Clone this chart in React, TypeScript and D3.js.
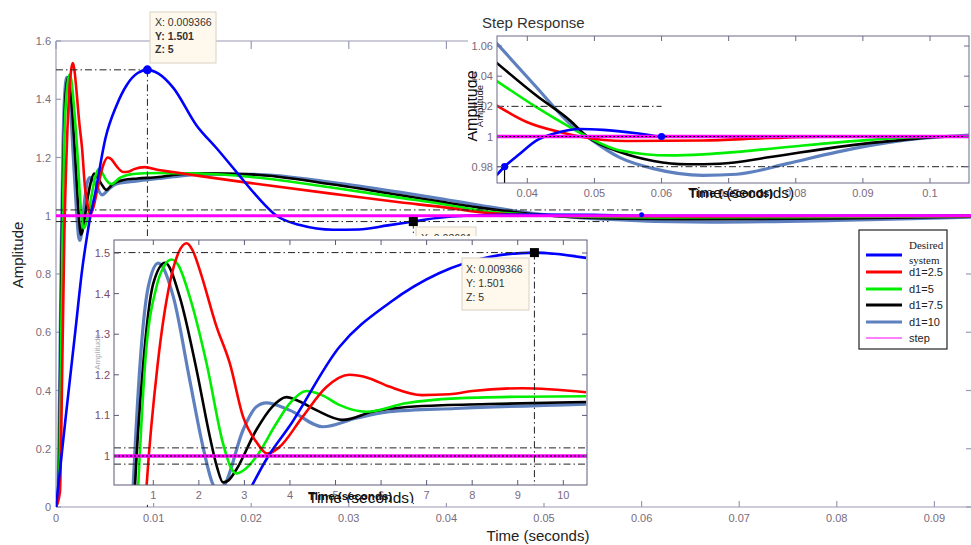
import React from "react";
import * as d3 from "d3";

type P = [number, number];

// ---------------- data ----------------
const seriesNames = ["Desired system", "d1=2.5", "d1=5", "d1=7.5", "d1=10", "step"];
const seriesColors = ["#0000ff", "#ff0000", "#00ee00", "#000000", "#5f80bf", "#ff00ff"];

// early part (time in ms) — shared by the main plot and the lower zoom panel
const desiredEarlyMs: P[] = [[0,0],[1,0.31],[2,0.61],[2.7,0.82],[3.18,0.93],[3.5,0.995],[4,1.075],[5.08,1.268],[6.18,1.377],[7.27,1.45],[8.37,1.49],[9.37,1.501],[10.5,1.488]];
const d25EarlyMs: P[] = [[0,0],[0.4,0.05],[0.65,0.5],[0.855,0.93],[1.1,1.23],[1.37,1.43],[1.55,1.5],[1.73,1.524],[1.87,1.505],[2.02,1.458],[2.39,1.318],[2.68,1.228],[2.97,1.097],[3.26,1.035],[3.5,1.006],[3.75,1.02],[4.28,1.097],[4.8,1.17],[5.3,1.2],[5.7,1.193],[6.18,1.171],[6.9,1.15],[7.5,1.152],[8.0,1.16],[9.1,1.167],[10.5,1.157]];
const d5EarlyMs: P[] = [[0,0],[0.3,0.05],[0.5,0.5],[0.67,0.93],[0.82,1.228],[1.07,1.417],[1.25,1.47],[1.4,1.484],[1.55,1.47],[1.8,1.392],[2.17,1.228],[2.53,1.031],[2.7,0.972],[2.82,0.957],[3.0,0.966],[3.26,0.998],[3.7,1.08],[4.0,1.13],[4.36,1.16],[4.7,1.15],[5.08,1.126],[5.67,1.109],[6.54,1.13],[7.64,1.142],[9.1,1.146],[10.5,1.147]];
const d75EarlyMs: P[] = [[0,0],[0.25,0.05],[0.45,0.5],[0.6,0.93],[0.78,1.228],[1.0,1.425],[1.26,1.476],[1.58,1.392],[1.95,1.212],[2.24,1.048],[2.4,0.972],[2.53,0.935],[2.65,0.94],[2.82,0.966],[3.26,1.064],[3.6,1.12],[3.92,1.145],[4.2,1.135],[4.58,1.113],[5.16,1.089],[5.81,1.109],[6.9,1.123],[8.37,1.128],[10.5,1.133]];
const d10EarlyMs: P[] = [[0,0],[0.2,0.05],[0.4,0.5],[0.56,0.93],[0.71,1.228],[0.89,1.417],[1.11,1.475],[1.44,1.392],[1.8,1.187],[2.09,1.023],[2.31,0.93],[2.45,0.915],[2.57,0.93],[2.97,1.064],[3.26,1.121],[3.48,1.131],[3.99,1.113],[4.72,1.072],[5.45,1.093],[6.18,1.109],[7.64,1.117],[10.5,1.128]];

// later part of the main plot (time in ms)
const desiredLateMs: P[] = [[12,1.44],[14.4,1.31],[16.5,1.23],[18.5,1.15],[20.5,1.07],[22.6,1.0],[25,0.968],[28.4,0.952],[31,0.953],[34,0.967],[36.6,0.98],[39,0.992],[42,1.0],[48,1.004],[55,1.003],[60,1.0],[70,1.0],[100,1.0]];
const d25LateMs: P[] = [[12,1.15],[14.8,1.136],[20,1.112],[28.4,1.075],[35,1.047],[40,1.028],[43.4,1.012],[48,1.003],[55,0.999],[66,0.998],[80,0.999],[100,1.0]];
const d5LateMs: P[] = [[12,1.146],[14.8,1.145],[20,1.133],[28.4,1.096],[35,1.063],[40,1.038],[43.4,1.018],[48,1.005],[55,0.996],[63,0.994],[75,0.995],[90,0.998],[100,1.0]];
const d75LateMs: P[] = [[12,1.14],[14.8,1.146],[20,1.142],[28.4,1.107],[35,1.072],[40,1.045],[43.4,1.028],[50,1.002],[58,0.99],[66,0.988],[80,0.991],[95,0.997],[100,0.999]];
const d10LateMs: P[] = [[12,1.134],[14.8,1.142],[20,1.142],[28.4,1.114],[35,1.082],[40,1.055],[43.4,1.036],[48,1.012],[55,0.99],[67,0.978],[80,0.984],[95,0.996],[100,0.999]];

// "Step Response" panel (time in s)
const desiredTop: P[] = [[0.0354,0.9743],[0.03661,0.98],[0.0389,0.9886],[0.0414,0.9974],[0.0439,1.0018],[0.0479,1.005],[0.0513,1.0044],[0.0563,1.0022],[0.06,1.0],[0.08,1.0],[0.1058,1.0]];
const d25Top: P[] = [[0.0354,1.0207],[0.04,1.0095],[0.0448,1.003],[0.0478,1.0],[0.0548,0.997],[0.0662,0.9974],[0.0762,0.999],[0.0861,1.0],[0.1058,1.0]];
const d5Top: P[] = [[0.0354,1.037],[0.0414,1.0193],[0.0464,1.0061],[0.0489,1.0],[0.0538,0.9908],[0.0613,0.9875],[0.0662,0.9882],[0.0737,0.9908],[0.0811,0.9941],[0.0911,0.9978],[0.101,1.0],[0.1058,1.0]];
const d75Top: P[] = [[0.0354,1.049],[0.0414,1.027],[0.0464,1.0105],[0.0489,1.0],[0.0538,0.9897],[0.0588,0.9838],[0.0638,0.9816],[0.0687,0.982],[0.0762,0.9864],[0.0861,0.993],[0.096,0.9978],[0.1034,1.0],[0.1058,1.0]];
const d10Top: P[] = [[0.0354,1.062],[0.0414,1.0325],[0.0464,1.0083],[0.0489,1.0],[0.0538,0.986],[0.0588,0.9787],[0.0662,0.9743],[0.0712,0.975],[0.0787,0.982],[0.0861,0.9897],[0.096,0.9974],[0.1058,1.001]];

const mainXTicks = [0, 0.01, 0.02, 0.03, 0.04, 0.05, 0.06, 0.07, 0.08, 0.09];
const mainXTickLabels = ["0", "0.01", "0.02", "0.03", "0.04", "0.05", "0.06", "0.07", "0.08", "0.09"];
const mainYTicks = [0, 0.2, 0.4, 0.6, 0.8, 1, 1.2, 1.4, 1.6];
const mainYTickLabels = ["0", "0.2", "0.4", "0.6", "0.8", "1", "1.2", "1.4", "1.6"];
const topXTicks = [0.04, 0.05, 0.06, 0.07, 0.08, 0.09, 0.1];
const topXTickLabels = ["0.04", "0.05", "0.06", "0.07", "0.08", "0.09", "0.1"];
const topYTicks = [0.98, 1, 1.02, 1.04, 1.06];
const topYTickLabels = ["0.98", "1", "1.02", "1.04", "1.06"];
const zoomXTicks = [1, 2, 3, 4, 5, 6, 7, 8, 9, 10];
const zoomXTickLabels = ["1", "2", "3", "4", "5", "6", "7", "8", "9", "10"];
const zoomYTicks = [1, 1.1, 1.2, 1.3, 1.4, 1.5];
const zoomYTickLabels = ["1", "1.1", "1.2", "1.3", "1.4", "1.5"];

const peakPoint: P = [0.009366, 1.501];
const settlePoint: P = [0.03661, 0.98];
const settleEndPoint: P = [0.06, 1.0];
const stepLevel = 1;
const bandHi = 1.02;
const bandLo = 0.98;
const peakTip = ["X: 0.009366", "Y: 1.501", "Z: 5"];
const settleTip = ["X: 0.03661"];

// ---------------- helpers ----------------
const SANS = "'Liberation Sans', Arial, sans-serif";
const SERIF = "'Liberation Serif', 'Times New Roman', serif";
const DASHDOT = "7,3,1.5,3";
const TICKC = "#7a6a7c";

function Curve({ data, x, y, color, w }: { data: P[]; x: any; y: any; color: string; w: number }) {
  const gen = d3.line<P>().x((d) => x(d[0])).y((d) => y(d[1])).curve(d3.curveMonotoneX);
  return <path d={gen(data) || ""} fill="none" stroke={color} strokeWidth={w} strokeLinejoin="round" />;
}

export default function App() {
  const W = 971, H = 545;

  // main plot scales
  const mx = d3.scaleLinear().domain([0, 0.1]).range([56, 1032]);
  const my = d3.scaleLinear().domain([0, 1.6]).range([507, 41]);
  const mL = 56, mT = 41, mB = 507, mR = 971;

  const mainSeries: P[][] = [
    [...desiredEarlyMs, ...desiredLateMs],
    [...d25EarlyMs, ...d25LateMs],
    [...d5EarlyMs, ...d5LateMs],
    [...d75EarlyMs, ...d75LateMs],
    [...d10EarlyMs, ...d10LateMs],
  ].map((s) => s.map((p) => [p[0] / 1000, p[1]] as P));
  const zoomSeries: P[][] = [desiredEarlyMs, d25EarlyMs, d5EarlyMs, d75EarlyMs, d10EarlyMs];
  const topSeries: P[][] = [desiredTop, d25Top, d5Top, d75Top, d10Top];
  const drawOrder = [4, 3, 2, 1, 0];
  const widths = [2.6, 2.6, 2.6, 2.6, 3.2];

  // top inset scales
  const tx = d3.scaleLinear().domain([0.04, 0.1]).range([527.3, 930]);
  const ty = d3.scaleLinear().domain([0.98, 1.06]).range([166.7, 46]);
  const tL = 497, tT = 36, tB = 183, tR = 969;

  // zoom inset scales
  const zx = d3.scaleLinear().domain([1, 10]).range([153.3, 563.3]);
  const zy = d3.scaleLinear().domain([1, 1.5]).range([456, 253]);
  const zL = 114, zT = 240, zB = 485, zR = 587;

  return (
    <svg width={W} height={H} style={{ display: "block", position: "absolute", left: 0, top: 0, background: "#fff" }} fontFamily={SANS}>
      <defs>
        <clipPath id="cMain"><rect x={mL} y={mT} width={mR - mL + 5} height={mB - mT} /></clipPath>
        <clipPath id="cTop"><rect x={tL} y={tT} width={tR - tL} height={tB - tT} /></clipPath>
        <clipPath id="cTopBg"><rect x={468} y={0} width={503} height={201} /></clipPath>
        <clipPath id="cZoom"><rect x={zL} y={zT} width={zR - zL} height={zB - zT} /></clipPath>
        <clipPath id="cZoomBg"><rect x={92} y={236} width={498} height={267} /></clipPath>
      </defs>
      <rect x={0} y={0} width={W} height={H} fill="#fff" />

      {/* ============ MAIN PLOT ============ */}
      <g>
        <g stroke="#9a9ab4" strokeWidth={1.2}>
          <line x1={mL} y1={mT} x2={mL} y2={mB} />
          <line x1={mL} y1={mT} x2={mR} y2={mT} />
          <line x1={mL} y1={mB} x2={mR} y2={mB} />
          {mainXTicks.map((t) => (
            <g key={"mxt" + t}>
              <line x1={mx(t)} y1={mB} x2={mx(t)} y2={mB - 6} />
              <line x1={mx(t)} y1={mT} x2={mx(t)} y2={mT + 8} />
            </g>
          ))}
          {mainYTicks.map((t) => (
            <g key={"myt" + t}>
              <line x1={mL} y1={my(t)} x2={mL + 5} y2={my(t)} />
              <line x1={mR - 5} y1={my(t)} x2={mR} y2={my(t)} />
            </g>
          ))}
        </g>
        {mainXTicks.map((t, i) => (
          <text key={"mxl" + t} x={mx(t)} y={522} fontSize={11} fill={TICKC} textAnchor="middle">{mainXTickLabels[i]}</text>
        ))}
        {mainYTicks.map((t, i) => (
          <text key={"myl" + t} x={51} y={my(t) + 4} fontSize={11} fill={TICKC} textAnchor="end">{mainYTickLabels[i]}</text>
        ))}
        <text x={538} y={541} fontSize={15} fill="#222" textAnchor="middle">Time (seconds)</text>
        <text transform="translate(23,255) rotate(-90)" fontSize={15} fill="#222" textAnchor="middle">Amplitude</text>

        <g clipPath="url(#cMain)">
          {drawOrder.map((i) => (
            <Curve key={"mc" + i} data={mainSeries[i]} x={mx} y={my} color={seriesColors[i]} w={widths[i]} />
          ))}
          <line x1={mL} x2={mR + 5} y1={my(stepLevel)} y2={my(stepLevel)} stroke={seriesColors[5]} strokeWidth={3} />
          <g stroke="#222" strokeWidth={1} strokeDasharray={DASHDOT}>
            <line x1={mL} x2={mx(settleEndPoint[0])} y1={my(bandHi)} y2={my(bandHi)} />
            <line x1={mL} x2={mx(0.0566)} y1={my(bandLo)} y2={my(bandLo)} />
            <line x1={mL} x2={mx(peakPoint[0])} y1={my(peakPoint[1])} y2={my(peakPoint[1])} />
            <line x1={mx(peakPoint[0])} x2={mx(peakPoint[0])} y1={my(peakPoint[1])} y2={mB} />
            <line x1={mx(settlePoint[0])} x2={mx(settlePoint[0])} y1={my(settlePoint[1])} y2={mB} />
          </g>
        </g>
        <circle cx={mx(peakPoint[0])} cy={my(peakPoint[1])} r={4.5} fill="#0000ff" />
        <circle cx={mx(settleEndPoint[0])} cy={my(settleEndPoint[1]) - 1} r={2.5} fill="#0000ff" />
        <rect x={mx(settlePoint[0]) - 4.5} y={my(settlePoint[1]) - 4.5} width={9} height={9} fill="#000" />

        {/* tooltips */}
        <rect x={150} y={12} width={66} height={51} fill="#fff8ec" stroke="#d9d2c4" />
        {peakTip.map((s, i) => (
          <text key={"pt" + i} x={155} y={26 + i * 13.5} fontSize={10.5} fill="#333" fontWeight={i > 0 ? 600 : 400}>{s}</text>
        ))}
        <rect x={416} y={227} width={60} height={30} fill="#fff8ec" stroke="#d9d2c4" />
        {settleTip.map((s, i) => (
          <text key={"st" + i} x={421} y={242} fontSize={10.5} fill="#333">{s}</text>
        ))}
      </g>

      {/* ============ TOP-RIGHT INSET: Step Response ============ */}
      <g clipPath="url(#cTopBg)">
        <rect x={468} y={0} width={503} height={201} fill="#fff" />
        <text x={482} y={28} fontSize={15} fill="#333">Step Response</text>
        <g clipPath="url(#cTop)">
          {drawOrder.map((i) => (
            <Curve key={"tc" + i} data={topSeries[i]} x={tx} y={ty} color={seriesColors[i]} w={widths[i]} />
          ))}
          <line x1={tL} x2={tR} y1={ty(stepLevel)} y2={ty(stepLevel)} stroke={seriesColors[5]} strokeWidth={3.5} />
          <line x1={tL} x2={tR} y1={ty(stepLevel)} y2={ty(stepLevel)} stroke="#000" strokeWidth={1} strokeDasharray="2,2" />
          <g stroke="#222" strokeWidth={1} strokeDasharray={DASHDOT}>
            <line x1={tL} x2={tx(settleEndPoint[0])} y1={ty(bandHi)} y2={ty(bandHi)} />
            <line x1={tL} x2={tR} y1={ty(bandLo)} y2={ty(bandLo)} />
          </g>
          <line x1={tx(settlePoint[0])} x2={tx(settlePoint[0])} y1={ty(settlePoint[1])} y2={tB} stroke="#000" strokeWidth={1.2} />
        </g>
        <circle cx={tx(settlePoint[0])} cy={ty(settlePoint[1])} r={3.6} fill="#0000ff" />
        <circle cx={tx(settleEndPoint[0])} cy={ty(settleEndPoint[1])} r={3.6} fill="#0000ff" />
        <g stroke="#6a6a88" strokeWidth={1}>
          <rect x={tL} y={tT} width={tR - tL} height={tB - tT} fill="none" />
          {topXTicks.map((t) => (
            <g key={"txt" + t}>
              <line x1={tx(t)} y1={tB} x2={tx(t)} y2={tB - 5} />
              <line x1={tx(t)} y1={tT} x2={tx(t)} y2={tT + 5} />
            </g>
          ))}
          {topYTicks.map((t) => (
            <g key={"tyt" + t}>
              <line x1={tL} y1={ty(t)} x2={tL + 5} y2={ty(t)} />
              <line x1={tR - 5} y1={ty(t)} x2={tR} y2={ty(t)} />
            </g>
          ))}
        </g>
        {topXTicks.map((t, i) => (
          <text key={"txl" + t} x={tx(t)} y={197} fontSize={11} fill={TICKC} textAnchor="middle">{topXTickLabels[i]}</text>
        ))}
        {topYTicks.map((t, i) => (
          <text key={"tyl" + t} x={493} y={ty(t) + 4} fontSize={11} fill={TICKC} textAnchor="end">{topYTickLabels[i]}</text>
        ))}
        <text transform="translate(477,106) rotate(-90)" fontSize={16} fill="#111" textAnchor="middle">Amplitude</text>
        <text transform="translate(483,106) rotate(-90)" fontSize={9.5} fill="#111" textAnchor="middle">Amplitude</text>
        <text x={688} y={198} fontSize={15.5} fill="#111">Time (seconds)</text>
        <text x={689} y={197} fontSize={11.5} fill="#111" fontWeight={700}>Time (seconds)</text>
      </g>

      {/* ============ LOWER ZOOM INSET ============ */}
      <g clipPath="url(#cZoomBg)">
        <rect x={92} y={236} width={498} height={267} fill="#fff" />
        <g clipPath="url(#cZoom)">
          {drawOrder.map((i) => (
            <Curve key={"zc" + i} data={zoomSeries[i]} x={zx} y={zy} color={seriesColors[i]} w={widths[i]} />
          ))}
          <line x1={zL} x2={zR} y1={zy(stepLevel)} y2={zy(stepLevel)} stroke={seriesColors[5]} strokeWidth={3.5} />
          <line x1={zL} x2={zR} y1={zy(stepLevel)} y2={zy(stepLevel)} stroke="#000" strokeWidth={1} strokeDasharray="2,2" />
          <g stroke="#222" strokeWidth={1} strokeDasharray={DASHDOT}>
            <line x1={zL} x2={zR} y1={zy(bandHi)} y2={zy(bandHi)} />
            <line x1={zL} x2={zR} y1={zy(bandLo)} y2={zy(bandLo)} />
            <line x1={zL} x2={zx(peakPoint[0] * 1000)} y1={zy(peakPoint[1])} y2={zy(peakPoint[1])} />
            <line x1={zx(peakPoint[0] * 1000)} x2={zx(peakPoint[0] * 1000)} y1={zy(peakPoint[1])} y2={zB} />
          </g>
        </g>
        <rect x={zx(peakPoint[0] * 1000) - 4.5} y={zy(peakPoint[1]) - 4.5} width={9} height={9} fill="#000" />
        <rect x={462} y={258} width={67} height={52} fill="#fff8ec" stroke="#d9d2c4" />
        {peakTip.map((s, i) => (
          <text key={"zt" + i} x={466} y={273 + i * 14} fontSize={10.5} fill="#333">{s}</text>
        ))}
        <g stroke="#5a5a78" strokeWidth={1}>
          <rect x={zL} y={zT} width={zR - zL} height={zB - zT} fill="none" />
          {zoomXTicks.map((t) => (
            <g key={"zxt" + t}>
              <line x1={zx(t)} y1={zB} x2={zx(t)} y2={zB - 5} />
              <line x1={zx(t)} y1={zT} x2={zx(t)} y2={zT + 5} />
            </g>
          ))}
          {zoomYTicks.map((t) => (
            <g key={"zyt" + t}>
              <line x1={zL} y1={zy(t)} x2={zL + 5} y2={zy(t)} />
              <line x1={zR - 5} y1={zy(t)} x2={zR} y2={zy(t)} />
            </g>
          ))}
        </g>
        {zoomXTicks.map((t, i) => (
          <text key={"zxl" + t} x={zx(t)} y={499} fontSize={11} fill={TICKC} textAnchor="middle">{zoomXTickLabels[i]}</text>
        ))}
        {zoomYTicks.map((t, i) => (
          <text key={"zyl" + t} x={110} y={zy(t) + 4} fontSize={11} fill="#7a4a6a" textAnchor="end">{zoomYTickLabels[i]}</text>
        ))}
        <text transform="translate(100,352) rotate(-90)" fontSize={8} fill="#aaa" textAnchor="middle">Amplitude</text>
        <text x={308} y={503} fontSize={15.5} fill="#111">Time (seconds)</text>
        <text x={308} y={500} fontSize={11.5} fill="#111" fontWeight={700}>Time (seconds)</text>
      </g>

      {/* ============ LEGEND ============ */}
      <g>
        <rect x={859} y={230} width={88} height={119} fill="#fff" stroke="#222" strokeWidth={1.2} />
        {seriesNames.map((n, i) => {
          const ly = [255, 272, 289, 305, 322, 338][i];
          return (
            <g key={"lg" + i}>
              <line x1={866} x2={902} y1={ly} y2={ly} stroke={seriesColors[i]} strokeWidth={i === 5 ? 1 : 3} />
              {i === 0 ? (
                <g>
                  <text x={909} y={249} fontSize={11} fill="#222" fontFamily={SERIF}>Desired</text>
                  <text x={909} y={264} fontSize={11} fill="#222" fontFamily={SERIF}>system</text>
                </g>
              ) : (
                <text x={909} y={ly + 4} fontSize={11} fill="#222">{n}</text>
              )}
            </g>
          );
        })}
      </g>
    </svg>
  );
}
